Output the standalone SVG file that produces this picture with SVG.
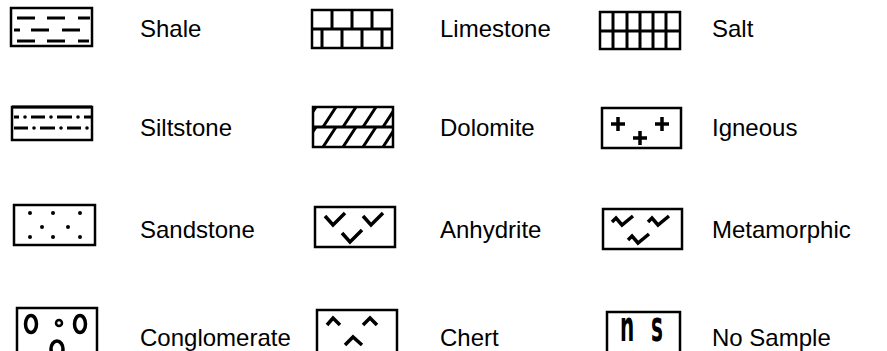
<svg xmlns="http://www.w3.org/2000/svg" width="887" height="351" viewBox="0 0 887 351">
<style>
.box{fill:none;stroke:#000;stroke-width:2.5}
.ln{fill:none;stroke:#000;stroke-width:3}
.thk{fill:none;stroke:#000;stroke-width:3.5;stroke-linejoin:miter}
.dot{fill:#000}
.lbl{font-family:"Liberation Sans",Arial,sans-serif;font-size:24px;fill:#000}
.ns{font-family:"DejaVu Sans",sans-serif;font-weight:bold;font-size:20px;fill:#000}
</style>
<defs>
<clipPath id="dolclip"><rect x="313" y="107" width="80" height="40"/></clipPath>
</defs>
<rect width="887" height="351" fill="#fff"/>

<g id="shale">
<rect class="box" x="11" y="8" width="81" height="38"/>
<path class="ln" d="M17,18H35M47,18H65M78,18H90M14,30H20M31,30H49M62,30H80M17,41H35M47,41H65M78,41H89"/>
<text class="lbl" x="140" y="37">Shale</text>
</g>

<g id="limestone">
<rect class="box" x="312" y="10" width="80" height="38"/>
<path class="ln" d="M312,29H392M332,10V29M352,10V29M372,10V29M322,29V48M342,29V48M362,29V48M382,29V48"/>
<text class="lbl" x="440" y="37">Limestone</text>
</g>

<g id="salt">
<rect class="box" x="600" y="12" width="80" height="37"/>
<path class="ln" d="M600,31H680M613,12V49M627,12V49M640,12V49M653,12V49M666,12V49"/>
<text class="lbl" x="712" y="37">Salt</text>
</g>

<g id="siltstone">
<rect class="box" x="12" y="107" width="80" height="33"/>
<path class="ln" d="M12,107H92"/>
<path class="ln" d="M14,117H19M31,117H45M57,117H72M84,117H91M14,128H28M40,128H55M67,128H81"/>
<circle class="dot" cx="25" cy="117" r="1.8"/><circle class="dot" cx="51" cy="117" r="1.8"/><circle class="dot" cx="78" cy="117" r="1.8"/>
<circle class="dot" cx="34" cy="128" r="1.8"/><circle class="dot" cx="61" cy="128" r="1.8"/><circle class="dot" cx="87" cy="128" r="1.8"/>
<text class="lbl" x="140" y="136">Siltstone</text>
</g>

<g id="dolomite">
<rect class="box" x="313" y="107" width="80" height="40"/>
<path class="ln" d="M313,127H393"/>
<g clip-path="url(#dolclip)">
<path class="ln" d="M303,127L316,107M323,127L336,107M343,127L356,107M363,127L376,107M383,127L396,107M303,147L316,127M323,147L336,127M343,147L356,127M363,147L376,127M383,147L396,127"/>
</g>
<text class="lbl" x="440" y="136">Dolomite</text>
</g>

<g id="igneous">
<rect class="box" x="602" y="108" width="79" height="40"/>
<path class="thk" d="M611,124H625M618,117V131M655,124H669M662,117V131M633,138H647M640,131V145"/>
<text class="lbl" x="712" y="136">Igneous</text>
</g>

<g id="sandstone">
<rect class="box" x="14" y="205" width="81" height="40"/>
<circle class="dot" cx="30" cy="213" r="2"/><circle class="dot" cx="53" cy="213" r="2"/><circle class="dot" cx="80" cy="213" r="2"/>
<circle class="dot" cx="42" cy="227" r="2"/><circle class="dot" cx="68" cy="227" r="2"/>
<circle class="dot" cx="30" cy="237" r="2"/><circle class="dot" cx="53" cy="237" r="2"/><circle class="dot" cx="80" cy="237" r="2"/>
<text class="lbl" x="140" y="238">Sandstone</text>
</g>

<g id="anhydrite">
<rect class="box" x="315" y="207" width="80" height="40"/>
<path class="thk" d="M325,216L333,225L345,213M363,216L371,225L383,213M342,233L350,242L362,230"/>
<text class="lbl" x="440" y="238">Anhydrite</text>
</g>

<g id="metamorphic">
<rect class="box" x="603" y="209" width="79" height="40"/>
<path class="thk" d="M612,222L616,218L622,225L633,216M648,222L652,218L658,225L669,216M628,240L632,236L638,243L649,234"/>
<text class="lbl" x="712" y="238">Metamorphic</text>
</g>

<g id="conglomerate">
<rect class="box" x="17" y="308" width="80" height="50"/>
<ellipse class="thk" cx="31" cy="324" rx="5.5" ry="8.5"/>
<ellipse class="thk" cx="80" cy="324" rx="5.5" ry="8.5"/>
<circle class="box" cx="59" cy="323" r="3"/>
<ellipse class="thk" cx="57" cy="349" rx="6" ry="8"/>
<text class="lbl" x="140" y="346">Conglomerate</text>
</g>

<g id="chert">
<rect class="box" x="317" y="310" width="80" height="50"/>
<path class="thk" d="M327,325L333,318L340,325M363,325L370,318L377,325M345,345L353,337L362,345"/>
<text class="lbl" x="440" y="346">Chert</text>
</g>

<g id="nosample">
<rect class="box" x="607" y="312" width="73" height="50"/>
<text class="ns" transform="translate(620,341) scale(1,2.1)">n</text>
<text class="ns" transform="translate(651,341) scale(1,2.1)">s</text>
<text class="lbl" x="712" y="346">No Sample</text>
</g>
</svg>
